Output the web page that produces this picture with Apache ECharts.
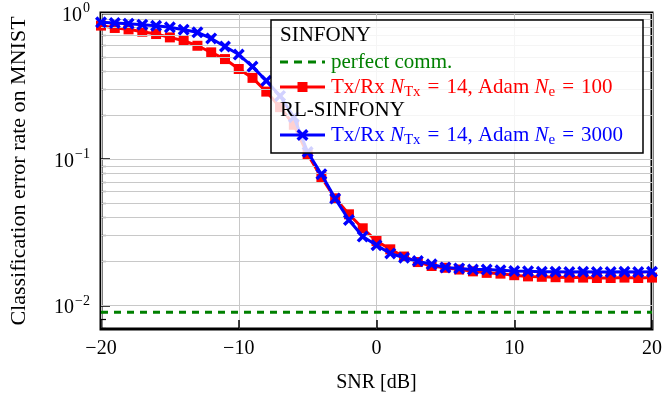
<!DOCTYPE html>
<html>
<head>
<meta charset="utf-8">
<script src="https://cdn.jsdelivr.net/npm/echarts@6/dist/echarts.min.js"></script>
<style>html,body{margin:0;padding:0;background:#fff}#c{width:665px;height:399px}</style>
</head>
<body>
<div id="c"></div>
<script>
const snrDb = [-20,-19,-18,-17,-16,-15,-14,-13,-12,-11,-10,-9,-8,-7,-6,-5,-4,-3,-2,-1,0,1,2,3,4,5,6,7,8,9,10,11,12,13,14,15,16,17,18,19,20];
const sinfonyAdam100 = [0.82,0.79,0.773,0.745,0.718,0.681,0.646,0.597,0.538,0.484,0.414,0.36,0.29,0.227,0.172,0.108,0.0753,0.054,0.042,0.0337,0.0276,0.0242,0.0216,0.0198,0.0186,0.0181,0.0176,0.0171,0.0167,0.0165,0.0161,0.0158,0.0157,0.0156,0.0155,0.0155,0.0154,0.0154,0.0155,0.0154,0.0155];
const rlSinfonyAdam3000 = [0.863,0.854,0.845,0.832,0.818,0.798,0.769,0.738,0.67,0.59,0.52,0.43,0.344,0.271,0.194,0.112,0.079,0.0538,0.0384,0.0296,0.0258,0.0227,0.0212,0.0201,0.0191,0.0182,0.0179,0.0176,0.0176,0.0174,0.0172,0.0171,0.017,0.017,0.0169,0.017,0.0169,0.0169,0.017,0.0169,0.017];
const perfectCommX = [-20, 20];
const perfectCommY = [0.009, 0.009];
const yMajorTicks = [0.01, 0.1, 1];
const yMinorTicks = [0.007,0.008,0.009,0.02,0.03,0.04,0.05,0.06,0.07,0.08,0.09,0.2,0.3,0.4,0.5,0.6,0.7,0.8,0.9];
const yMin = 0.0069, yMax = 1;

const FONT = '"Liberation Serif", "Times New Roman", serif';
const pairs = (xs, ys) => xs.map((x, i) => [x, ys[i]]);
const gridLineVals = yMinorTicks.concat(yMajorTicks);
const supMap = {'0':'0','-1':'−1','-2':'−2'};
const crossPath = 'path://M0,2L2,0L5,3L8,0L10,2L7,5L10,8L8,10L5,7L2,10L0,8L3,5Z';
const crossPts = [[0,2],[2,0],[5,3],[8,0],[10,2],[7,5],[10,8],[8,10],[5,7],[2,10],[0,8],[3,5]];
const EQ = '\u2004=\u2004';

const chart = echarts.init(document.getElementById('c'), null, {renderer: 'canvas'});
const LF = 21;
const legendText = (txt, x, y, color, rich) => ({type: 'text', z: 101, zlevel: 1, x: x, y: y, style: Object.assign({text: txt, fill: color, font: LF + 'px ' + FONT, verticalAlign: 'middle'}, rich ? {rich: rich} : {})});
const richFor = color => ({i: {fontStyle: 'italic', fontFamily: FONT, fontSize: LF, fill: color}, sub: {fontFamily: FONT, fontSize: 15, fill: color, padding: [10,0,0,0]}});
const option = {
  animation: false,
  backgroundColor: '#fff',
  grid: {left: 99, top: 13, width: 557, height: 316, show: true, borderColor: '#000', borderWidth: 3, containLabel: false},
  xAxis: {
    type: 'value', min: -20, max: 20, interval: 10,
    name: 'SNR [dB]', nameLocation: 'middle', nameGap: 44,
    nameTextStyle: {fontFamily: FONT, fontSize: 20, color: '#000'},
    axisLine: {show: false, onZero: false},
    axisTick: {inside: true, length: 9, lineStyle: {color: '#000', width: 1.5}},
    axisLabel: {fontFamily: FONT, fontSize: 20, color: '#000', margin: 10,
      formatter: v => (v < 0 ? '−' + Math.abs(v) : String(v))},
    splitLine: {show: true, lineStyle: {color: '#c8c8c8', width: 1}}
  },
  yAxis: [{
    type: 'log', logBase: 10, min: yMin, max: yMax, position: 'left',
    name: 'Classification error rate on MNIST', nameLocation: 'middle', nameGap: 71,
    nameTextStyle: {fontFamily: FONT, fontSize: 22, color: '#000'},
    axisLine: {show: false, onZero: false},
    axisTick: {inside: true, length: 9, customValues: yMajorTicks, lineStyle: {color: '#000', width: 1.5}},
    axisLabel: {customValues: yMajorTicks, margin: 11, fontFamily: FONT, fontSize: 20, color: '#000',
      formatter: v => '{b|10}{s|' + supMap[String(Math.round(Math.log10(v)))] + '}',
      rich: {b: {fontFamily: FONT, fontSize: 20, color: '#000', padding: [5,0,0,0]}, s: {fontFamily: FONT, fontSize: 14, color: '#000', padding: [0,0,9,1]}}},
    splitLine: {show: false}
  }, {
    type: 'log', logBase: 10, min: yMin, max: yMax, position: 'left', offset: 0,
    axisLine: {show: false, onZero: false},
    axisTick: {inside: true, length: 5, customValues: yMinorTicks, lineStyle: {color: '#000', width: 1.2}},
    axisLabel: {show: false},
    splitLine: {show: false}
  }],
  series: [
    {
      name: 'grid', type: 'line', data: [], z: 1, silent: true,
      markLine: {silent: true, symbol: 'none', label: {show: false},
        lineStyle: {color: '#c8c8c8', width: 1, type: 'solid'},
        data: gridLineVals.map(v => ({yAxis: v}))}
    },
    {
      name: 'perfect comm.', type: 'line', data: pairs(perfectCommX, perfectCommY), z: 3,
      showSymbol: false, lineStyle: {color: '#008000', width: 3, type: [7, 6]}
    },
    {
      name: 'SINFONY Tx/Rx', type: 'line', data: pairs(snrDb, sinfonyAdam100), z: 4,
      symbol: 'rect', symbolSize: 10, itemStyle: {color: '#ff0000'},
      lineStyle: {color: '#ff0000', width: 3}
    },
    {
      name: 'RL-SINFONY Tx/Rx', type: 'line', data: pairs(snrDb, rlSinfonyAdam3000), z: 5,
      symbol: crossPath, symbolSize: 12, itemStyle: {color: '#0000ff'},
      lineStyle: {color: '#0000ff', width: 3}
    }
  ],
  graphic: {
    z: 100,
    zlevel: 1,
    elements: [
      {type: 'rect', id: 'lgbg', z: 100, zlevel: 1, silent: true, shape: {x: 271, y: 20, width: 372, height: 133}, style: {fill: 'rgba(255,255,255,0.82)'}},
      {type: 'rect', id: 'lgbox', z: 101, zlevel: 1, silent: true, shape: {x: 271, y: 20, width: 372, height: 133}, style: {fill: null, stroke: '#000', lineWidth: 1.5}},
      legendText('SINFONY', 280, 35, '#000'),
      {type: 'line', z: 101, zlevel: 1, shape: {x1: 280, y1: 62, x2: 325, y2: 62}, style: {stroke: '#008000', lineWidth: 3, lineDash: [8, 6]}},
      legendText('perfect comm.', 331, 62, '#008000'),
      {type: 'line', z: 101, zlevel: 1, shape: {x1: 280, y1: 87, x2: 325, y2: 87}, style: {stroke: '#ff0000', lineWidth: 3}},
      {type: 'rect', z: 102, zlevel: 1, shape: {x: 297.5, y: 82, width: 10, height: 10}, style: {fill: '#ff0000'}},
      legendText('Tx/Rx {i|N}{sub|Tx}' + EQ + '14, Adam {i|N}{sub|e}' + EQ + '100', 331, 87, '#ff0000', richFor('#ff0000')),
      legendText('RL-SINFONY', 280, 110, '#000'),
      {type: 'line', z: 101, zlevel: 1, shape: {x1: 280, y1: 135, x2: 325, y2: 135}, style: {stroke: '#0000ff', lineWidth: 3}},
      {type: 'polygon', z: 102, zlevel: 1, shape: {points: crossPts}, x: 296.5, y: 129, scaleX: 1.2, scaleY: 1.2, style: {fill: '#0000ff'}},
      legendText('Tx/Rx {i|N}{sub|Tx}' + EQ + '14, Adam {i|N}{sub|e}' + EQ + '3000', 331, 135, '#0000ff', richFor('#0000ff'))
    ]
  }
};
chart.setOption(option);
</script>
</body>
</html>
